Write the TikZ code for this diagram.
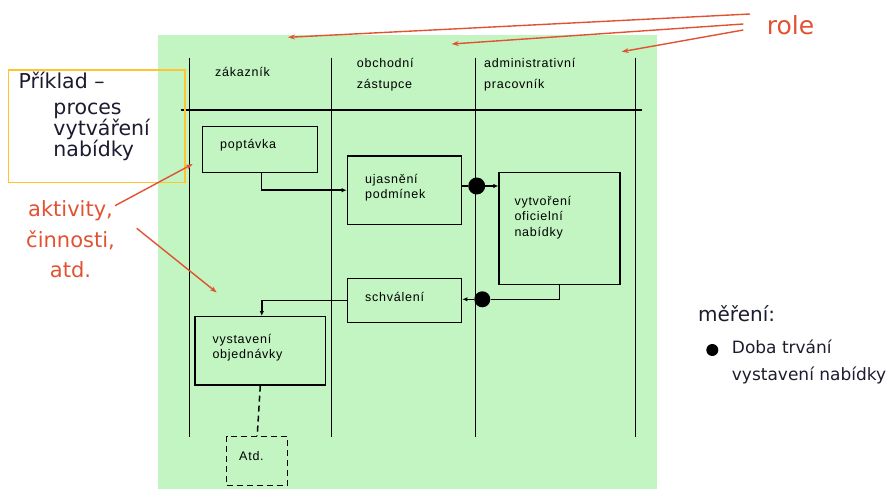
\documentclass[tikz,border=0pt]{standalone}
\usepackage{fontspec}
\setmainfont{DejaVu Sans}
\newfontfamily\diagfont[LetterSpace=6]{Liberation Sans}
\usetikzlibrary{arrows.meta}
\definecolor{lanegreen}{RGB}{194,245,194}
\definecolor{notered}{RGB}{226,82,50}
\definecolor{noteyellow}{RGB}{255,196,46}
\definecolor{darktext}{RGB}{28,28,48}
\newcommand\mytightlines{\lineskiplimit=-100pt\relax\lineskip=0pt\relax}
\begin{document}
\begin{tikzpicture}[x=1pt,y=-1pt,
  act/.style={draw=black,line width=1.3pt,inner sep=0pt},
  lbl/.style={anchor=base west,inner sep=0pt,font=\diagfont\fontsize{12.5}{14}\selectfont},
  lane/.style={line width=1.5pt},
  flow/.style={line width=1.5pt,-{Latex[length=5pt,width=4.5pt]}},
  milestone/.style={circle,fill=black,inner sep=0pt,minimum size=#1},
  pointer/.style={draw=notered,line width=1.4pt,-{Stealth[length=7pt,width=5pt]}},
  redtxt/.style={inner sep=0pt,text=notered,font=\fontsize{21}{21}\selectfont,anchor=base},
  legtxt/.style={inner sep=0pt,text=darktext,font=\fontsize{17}{17}\selectfont,anchor=base west}
]
\useasboundingbox (0,0) rectangle (891,489);
\fill[lanegreen] (158,35) rectangle (657,489);

% swimlanes
\draw[lane] (189.3,57.7) -- (189.3,437.3);
\draw[lane] (331.7,57.7) -- (331.7,437.3);
\draw[lane] (475.7,57.7) -- (475.7,437.3);
\draw[lane] (635.7,57.7) -- (635.7,437.3);
\draw[lane] (180.7,110) -- (642.3,110);

% lane headers
\node[lbl] (h1) at (215,76.7) {zákazník};
\node[lbl] (h2a) at (356.7,67.7) {obchodní};
\node[lbl] (h2b) at (356.7,89) {zástupce};
\node[lbl] (h3a) at (484,67.7) {administrativní};
\node[lbl] (h3b) at (484,89) {pracovník};

% activities
\node[act,minimum width=115pt,minimum height=46pt] (pop) at (260.2,149.7) {};
\node[act,minimum width=114.4pt,minimum height=68.3pt] (uja) at (404.5,190.2) {};
\node[act,minimum width=121pt,minimum height=111.6pt] (vyt) at (559.5,228.5) {};
\node[act,minimum width=114.4pt,minimum height=44pt] (sch) at (404.5,300.3) {};
\node[act,minimum width=130.7pt,minimum height=68.3pt] (vys) at (260.3,350.8) {};
\node[act,dashed,dash pattern=on 6pt off 4pt,minimum width=61pt,minimum height=48.6pt] (atd) at (257.2,461) {};

\node[lbl] (t1) at (220,149) {poptávka};
\node[lbl] (t2a) at (365,184) {ujasnění};
\node[lbl] (t2b) at (365,198.3) {podmínek};
\node[lbl] (t3a) at (514.3,205) {vytvoření};
\node[lbl] (t3b) at (514.3,220.7) {oficielní};
\node[lbl] (t3c) at (514.3,236.7) {nabídky};
\node[lbl] (t4) at (365,301.7) {schválení};
\node[lbl] (t5a) at (212.3,343.3) {vystavení};
\node[lbl] (t5b) at (212.3,358.3) {objednávky};
\node[lbl] (t6) at (239,460) {Atd.};

% milestones
\node[milestone=17pt] (d1) at (476.7,186) {};
\node[milestone=16pt] (d2) at (482.3,299.3) {};

% flows
\draw[flow] ([xshift=1.5pt]pop.south) |- (uja.west);
\draw[line width=1.5pt] (uja.east |- d1) -- (d1);
\draw[flow] (d1) -- (vyt.west |- d1);
\draw[line width=1.5pt] (vyt.south) |- (d2);
\draw[flow] (d2) -- (sch.east |- d2);
\draw[flow] (sch.west) -| ([xshift=1.5pt]vys.north);
\draw[line width=1.5pt,dashed,dash pattern=on 6pt off 4pt] (vys.south) -- (atd.north);

% example note
\node[draw=noteyellow,line width=1.3pt,minimum width=176.7pt,minimum height=112.7pt,inner sep=0pt] (ex) at (96.65,126.35) {};
\node[inner sep=0pt,text=darktext,align=left,anchor=base west,
      font=\fontsize{20.5}{21.2}\selectfont\mytightlines] (e1) at (18.3,157)
  {Příklad –\\[4.8pt]\hspace*{35pt}proces\\\hspace*{35pt}vytváření\\\hspace*{35pt}nabídky};

% activities note
\node[redtxt] (a1) at (70.5,216.7) {aktivity,};
\node[redtxt] (a2) at (70.5,247) {činnosti,};
\node[redtxt] (a3) at (70.5,277.5) {atd.};
\coordinate (a1s) at (115,205.7);
\coordinate (a1e) at (192.7,164);
\coordinate (a2s) at (136.7,228.3);
\coordinate (a2e) at (216.7,292.5);
\draw[pointer] (a1s) -- (a1e);
\draw[pointer] (a2s) -- (a2e);

% roles note
\node[inner sep=0pt,text=notered,font=\fontsize{25}{25}\selectfont,anchor=base west] (role) at (766.7,35) {role};
\coordinate (r1s) at (750,14);
\coordinate (r2s) at (743.3,24);
\coordinate (r3s) at (743.3,30);
\coordinate (r1e) at (288,37.3);
\coordinate (r2e) at (451.7,44);
\coordinate (r3e) at (621.7,51.7);
\draw[pointer] (r1s) -- (r1e);
\draw[pointer] (r2s) -- (r2e);
\draw[pointer] (r3s) -- (r3e);

% measurement legend
\node[inner sep=0pt,text=darktext,font=\fontsize{20}{20}\selectfont,anchor=base west] (m) at (698,321.7) {měření:};
\node[milestone=12pt] (md) at (712.3,350) {};
\node[legtxt] (m1) at (731.7,353.3) {Doba trvání};
\node[legtxt] (m2) at (731.7,380.7) {vystavení nabídky};
\end{tikzpicture}
\end{document}
